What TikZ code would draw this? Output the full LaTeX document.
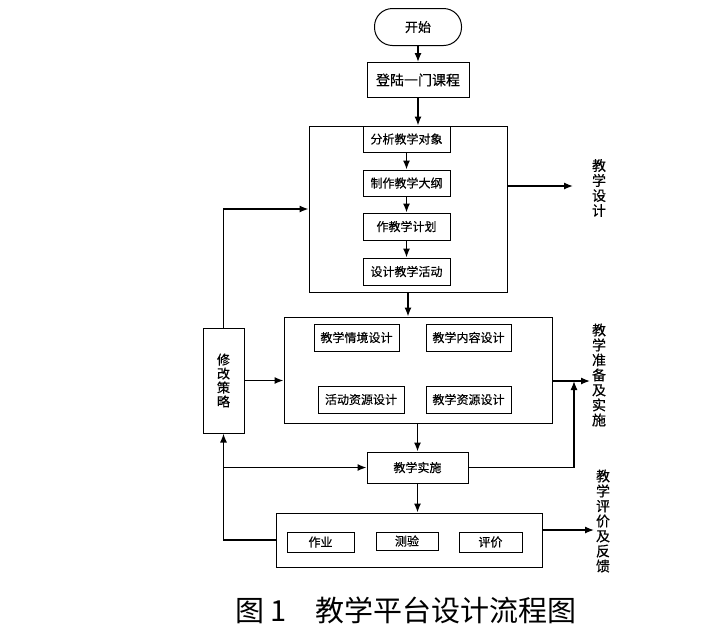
\documentclass[tikz,border=0pt]{standalone}
\usepackage{fontspec}
\newfontfamily\cjk{Noto Sans CJK SC}
\newfontfamily\cjkb[FakeBold=0.4]{Noto Sans CJK SC}
\usetikzlibrary{arrows.meta}

\begin{document}
\begin{tikzpicture}[x=1pt,y=-1pt, font=\cjk,
    >={Latex[length=9pt,width=7pt]},
    box/.style={draw, line width=1pt, inner sep=0pt, font=\cjkb\fontsize{12}{14}\selectfont},
    flow/.style={line width=1.3pt},
    side/.style={align=center, inner sep=0pt, font=\cjkb\fontsize{14}{15}\selectfont}]
    \useasboundingbox (0,0) rectangle (721,641);

    \node[box, rounded corners=18pt, minimum width=87pt, minimum height=37pt, font=\cjkb\fontsize{13}{15}\selectfont] (start) at (418,27) {开始};
    \node[box, minimum width=102pt, minimum height=35pt, font=\cjkb\fontsize{14}{16}\selectfont] (login) at (418,80) {登陆一门课程};

    \node[box, minimum width=198pt, minimum height=166pt] (design) at (408,209) {};
    \node[box, minimum width=87pt, minimum height=26pt] (obj) at (406.5,139) {分析教学对象};
    \node[box, minimum width=87pt, minimum height=26pt] (outline) at (406.5,183) {制作教学大纲};
    \node[box, minimum width=87pt, minimum height=27pt] (plan) at (406.5,226.5) {作教学计划};
    \node[box, minimum width=87pt, minimum height=27pt] (act) at (406.5,271.5) {设计教学活动};

    \node[box, minimum width=268pt, minimum height=106pt] (prep) at (418,370) {};
    \node[box, minimum width=85pt, minimum height=27pt] (scene) at (356.5,337.5) {教学情境设计};
    \node[box, minimum width=85pt, minimum height=27pt] (content) at (468.5,337.5) {教学内容设计};
    \node[box, minimum width=86pt, minimum height=27pt] (actres) at (361,399.5) {活动资源设计};
    \node[box, minimum width=85pt, minimum height=27pt] (teachres) at (468.5,399.5) {教学资源设计};

    \node[box, minimum width=41pt, minimum height=105pt, align=center, font=\cjkb\fontsize{13}{14}\selectfont] (revise) at (223.5,380.5) {修\\改\\策\\略};

    \node[box, minimum width=101pt, minimum height=31pt] (impl) at (417.5,467.5) {教学实施};

    \node[box, minimum width=266pt, minimum height=54pt] (eval) at (409,540) {};
    \node[box, minimum width=67pt, minimum height=20pt] (hw) at (320.5,542) {作业};
    \node[box, minimum width=62pt, minimum height=18pt] (quiz) at (407,541) {测验};
    \node[box, minimum width=63pt, minimum height=20pt] (grade) at (490.5,542) {评价};

    \node[side] (ldesign) at (599,188) {教\\学\\设\\计};
    \node[side] (lprep) at (599,375) {教\\学\\准\\备\\及\\实\\施};
    \node[side] (leval) at (603,521) {教\\学\\评\\价\\及\\反\\馈};

    \coordinate (dend) at (573,186);
    \coordinate (pend) at (590,381);
    \coordinate (join) at (574,381);
    \coordinate (eend) at (594,530);

    \draw[flow,->] (start) -- (login);
    \draw[flow,->] (login) -- (login |- design.north);
    \draw[flow,->] (obj) -- (outline);
    \draw[flow,->] (outline) -- (plan);
    \draw[flow,->] (plan) -- (act);
    \draw[flow,->] (design.east |- dend) -- (dend);
    \draw[flow,->] (design.south) -- (design.south |- prep.north);
    \draw[flow,->] (revise.north) |- (design.west);
    \draw[flow,->] (revise) -- (revise -| prep.west);
    \draw[flow,->] (prep.east |- pend) -- (pend);
    \draw[flow,->] (prep.south -| impl) -- (impl.north);
    \draw[flow,->] (impl.east) -| (join);
    \draw[flow,->] (revise.south |- impl.west) -- (impl.west);
    \draw[flow,->] (impl.south) -- (impl.south |- eval.north);
    \draw[flow,->] (eval.west) -| (revise.south);
    \draw[flow,->] (eval.east |- eend) -- (eend);

    \node[font=\cjk\fontsize{29}{32}\selectfont] (caption) at (406,610) {图 1\quad 教学平台设计流程图};
\end{tikzpicture}
\end{document}
